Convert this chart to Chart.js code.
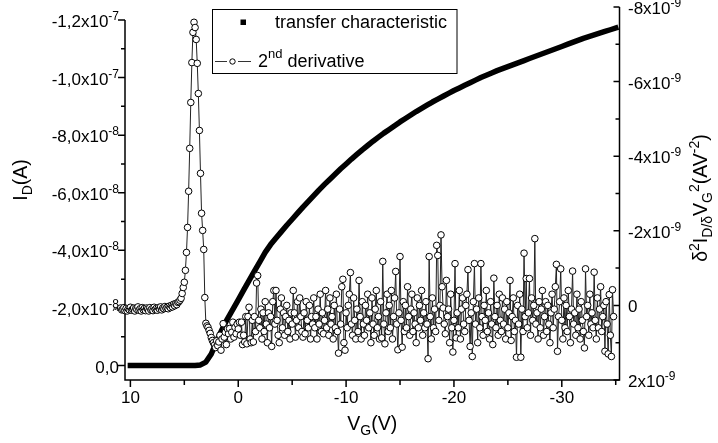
<!DOCTYPE html>
<html lang="en">
<head>
<meta charset="UTF-8">
<title>Transfer characteristic and 2nd derivative</title>
<script src="https://cdn.jsdelivr.net/npm/chart.js@4.4.1/dist/chart.umd.min.js"></script>
<style>
    body { margin: 0; background: #fff; }
    #wrap { width: 718px; height: 443px; }
</style>
</head>
<body>
<div id="wrap"><canvas id="chart"></canvas></div>
<script>
// transfer sweep: gate voltage (V) and drain current (units of 1e-8 A)
const vgTransfer = [
    10, 9.5, 9, 8.5, 8, 7.5, 7, 6.5, 6, 5.5, 5, 4.5, 4,
    3.5, 3, 2.5, 2, 1.5, 1, 0.5, 0, -0.5, -1, -1.5, -2, -2.5, -3, -3.5, -4, -4.5, -5,
    -5.5, -6, -6.5, -7, -7.5, -8, -8.5, -9, -9.5, -10, -10.5, -11, -11.5, -12, -12.5,
    -13, -13.5, -14, -14.5, -15, -15.5, -16, -16.5, -17, -17.5, -18, -18.5, -19, -19.5,
    -20, -20.5, -21, -21.5, -22, -22.5, -23, -23.5, -24, -24.5, -25, -25.5, -26, -26.5,
    -27, -27.5, -28, -28.5, -29, -29.5, -30, -30.5, -31, -31.5, -32, -32.5, -33, -33.5,
    -34, -34.5, -35
];
const idTransfer = [
    0, 0, 0, 0, 0, 0, 0, 0, 0, 0, 0, 0, 0,
    -0.02, -0.12, -0.4, -0.85, -1.25, -1.62, -1.95, -2.28, -2.62, -2.95, -3.28, -3.6, -3.93, -4.2, -4.43, -4.65, -4.87, -5.08,
    -5.29, -5.5, -5.7, -5.9, -6.1, -6.29, -6.47, -6.65, -6.83, -7.0, -7.17, -7.33, -7.49, -7.64, -7.79,
    -7.93, -8.07, -8.2, -8.33, -8.46, -8.58, -8.7, -8.82, -8.93, -9.04, -9.15, -9.25, -9.35, -9.45,
    -9.55, -9.64, -9.73, -9.82, -9.91, -10.0, -10.08, -10.16, -10.24, -10.31, -10.38, -10.45, -10.52, -10.59,
    -10.66, -10.73, -10.8, -10.87, -10.94, -11.01, -11.08, -11.15, -11.22, -11.29, -11.36, -11.42, -11.48, -11.54,
    -11.6, -11.66, -11.72
];

// second derivative: gate voltage (V) and d2I/dV2 (units of 1e-10 A/V^2)
const vgDeriv = [
    11.6, 11.5, 11.4, 11.3, 11.2, 11.1, 11.0,
    10.9, 10.8, 10.7, 10.6, 10.5, 10.4, 10.3, 10.2, 10.1, 10.0,
    9.9, 9.8, 9.7, 9.6, 9.5, 9.4, 9.3, 9.2, 9.1, 9.0,
    8.9, 8.8, 8.7, 8.6, 8.5, 8.4, 8.3, 8.2, 8.1, 8.0,
    7.9, 7.8, 7.7, 7.6, 7.5, 7.4, 7.3, 7.2, 7.1, 7.0,
    6.9, 6.8, 6.7, 6.6, 6.5, 6.4, 6.3, 6.2, 6.1, 6.0,
    5.9, 5.8, 5.7, 5.6, 5.5, 5.4, 5.3, 5.2, 5.1, 5.0,
    4.9, 4.8, 4.7, 4.6, 4.5, 4.4, 4.3, 4.2, 4.1, 4.0,
    3.9, 3.8, 3.7, 3.6, 3.5, 3.4, 3.3, 3.2, 3.1, 3.0,
    2.9, 2.8, 2.7, 2.6, 2.5, 2.4, 2.3, 2.2, 2.1, 2.0,
    1.9, 1.8, 1.7, 1.6, 1.5, 1.4, 1.3, 1.2, 1.1, 1.0,
    0.9, 0.8, 0.7, 0.6, 0.5, 0.4, 0.3, 0.2, 0.1, 0.0,
    -0.1, -0.2, -0.3, -0.4, -0.5, -0.6, -0.7, -0.8, -0.9, -1.0,
    -1.1, -1.2, -1.3, -1.4, -1.5, -1.6, -1.7, -1.8, -1.9, -2.0,
    -2.1, -2.2, -2.3, -2.4, -2.5, -2.6, -2.7, -2.8, -2.9, -3.0,
    -3.1, -3.2, -3.3, -3.4, -3.5, -3.6, -3.7, -3.8, -3.9, -4.0,
    -4.1, -4.2, -4.3, -4.4, -4.5, -4.6, -4.7, -4.8, -4.9, -5.0,
    -5.1, -5.2, -5.3, -5.4, -5.5, -5.6, -5.7, -5.8, -5.9, -6.0,
    -6.1, -6.2, -6.3, -6.4, -6.5, -6.6, -6.7, -6.8, -6.9, -7.0,
    -7.1, -7.2, -7.3, -7.4, -7.5, -7.6, -7.7, -7.8, -7.9, -8.0,
    -8.1, -8.2, -8.3, -8.4, -8.5, -8.6, -8.7, -8.8, -8.9, -9.0,
    -9.1, -9.2, -9.3, -9.4, -9.5, -9.6, -9.7, -9.8, -9.9, -10.0,
    -10.1, -10.2, -10.3, -10.4, -10.5, -10.6, -10.7, -10.8, -10.9, -11.0,
    -11.1, -11.2, -11.3, -11.4, -11.5, -11.6, -11.7, -11.8, -11.9, -12.0,
    -12.1, -12.2, -12.3, -12.4, -12.5, -12.6, -12.7, -12.8, -12.9, -13.0,
    -13.1, -13.2, -13.3, -13.4, -13.5, -13.6, -13.7, -13.8, -13.9, -14.0,
    -14.1, -14.2, -14.3, -14.4, -14.5, -14.6, -14.7, -14.8, -14.9, -15.0,
    -15.1, -15.2, -15.3, -15.4, -15.5, -15.6, -15.7, -15.8, -15.9, -16.0,
    -16.1, -16.2, -16.3, -16.4, -16.5, -16.6, -16.7, -16.8, -16.9, -17.0,
    -17.1, -17.2, -17.3, -17.4, -17.5, -17.6, -17.7, -17.8, -17.9, -18.0,
    -18.1, -18.2, -18.3, -18.4, -18.5, -18.6, -18.7, -18.8, -18.9, -19.0,
    -19.1, -19.2, -19.3, -19.4, -19.5, -19.6, -19.7, -19.8, -19.9, -20.0,
    -20.1, -20.2, -20.3, -20.4, -20.5, -20.6, -20.7, -20.8, -20.9, -21.0,
    -21.1, -21.2, -21.3, -21.4, -21.5, -21.6, -21.7, -21.8, -21.9, -22.0,
    -22.1, -22.2, -22.3, -22.4, -22.5, -22.6, -22.7, -22.8, -22.9, -23.0,
    -23.1, -23.2, -23.3, -23.4, -23.5, -23.6, -23.7, -23.8, -23.9, -24.0,
    -24.1, -24.2, -24.3, -24.4, -24.5, -24.6, -24.7, -24.8, -24.9, -25.0,
    -25.1, -25.2, -25.3, -25.4, -25.5, -25.6, -25.7, -25.8, -25.9, -26.0,
    -26.1, -26.2, -26.3, -26.4, -26.5, -26.6, -26.7, -26.8, -26.9, -27.0,
    -27.1, -27.2, -27.3, -27.4, -27.5, -27.6, -27.7, -27.8, -27.9, -28.0,
    -28.1, -28.2, -28.3, -28.4, -28.5, -28.6, -28.7, -28.8, -28.9, -29.0,
    -29.1, -29.2, -29.3, -29.4, -29.5, -29.6, -29.7, -29.8, -29.9, -30.0,
    -30.1, -30.2, -30.3, -30.4, -30.5, -30.6, -30.7, -30.8, -30.9, -31.0,
    -31.1, -31.2, -31.3, -31.4, -31.5, -31.6, -31.7, -31.8, -31.9, -32.0,
    -32.1, -32.2, -32.3, -32.4, -32.5, -32.6, -32.7, -32.8, -32.9, -33.0,
    -33.1, -33.2, -33.3, -33.4, -33.5, -33.6, -33.7, -33.8, -33.9, -34.0,
    -34.1, -34.2, -34.3, -34.4, -34.5, -34.6, -34.7, -34.8
];
const d2Deriv = [
    1.5, 0.8, 1.2, 0.5, 1.4, 0.9, 1.6,
    0.7, 1.2, 1.0, 0.6, 1.4, 0.8, 1.5, 0.9, 1.2, 0.5,
    1.3, 1.0, 0.7, 1.5, 0.8, 1.1, 0.4, 1.3, 0.9, 1.5,
    0.6, 1.2, 0.8, 1.4, 0.7, 1.0, 1.5, 0.6, 1.2, 0.9,
    1.4, 0.5, 1.1, 0.8, 1.3, 0.6, 1.0, 0.4, 1.2, 0.7,
    0.9, 0.3, 0.8, 0.5, 0.9, 0.2, 0.6, 0.0, 0.4, -0.3,
    0.1, -0.5, -0.2, -0.8, -1.0, -1.4, -1.9, -3.2, -4.8, -6.2,
    -9.4, -14.2, -20.9, -30.6, -42.1, -54.4, -65.1, -73.2, -75.9, -74.5,
    -71.3, -64.9, -56.8, -46.9, -35.4, -24.7, -20.1, -15.0, -2.1, 4.8,
    5.5, 5.9, 6.7, 7.5, 8.6, 9.4, 10.0, 10.6, 11.3, 9.5,
    10.8, 9.8, 8.0, 12.0, 9.0, 4.9, 8.5, 7.2, 10.5, 6.3,
    7.6, 6.2, 9.0, 7.2, 4.5, 8.5, 5.9, 7.6, 5.0, 6.3,
    4.5, 8.0, 4.5, 10.5, 8.0, 9.8, 3.0, 10.3, 3.0, 0.5,
    9.0, 10.0, 4.0, 9.8, 3.0, 7.0, -6.0, -8.0, 4.0, 6,
    1, 9, 2, 7, -1, 5, 10, 2, 6, 3,
    11, -1, -4, 5, -4, 4, 8, 10, 1, -2,
    6, 2, 8, 3, 0, 7, 4, 9, 2, 5,
    -4, 2, 8.5, 4, -1, 6, -2, 3, 7, 8.5,
    2, 7.6, -1, 4, 6, 0, 9, 3, 5, -2,
    6, 3, 9, 1, 5, -3, 7, 2, 7.6, 4,
    -4, 6, 1, 8, -2, 5, 3, 9, 0, 6,
    -3, 7, 12.8, 1, 5, -5, -7, 10, 12, 2,
    6, 0, -3, -8.8, 5, 8, -2, 4, 9, 1,
    7, -6.7, 3, 9, -1, 5, 8, 0, 4, -3,
    6, 2, 10, -2, 5, 8, 1, -4, 6, 3,
    9, -1, 8.7, -11.8, 5, 10.3, 2, -3, 7, 0,
    6, -4, 9, 3, -2, -9.1, 5, 11.9, 2, -13.1,
    4, 11.2, -1, 7, 0, 6, -5, 3, 8, 1,
    -3, 7, 2, 5, 10, -2, 6, 0, 4, -4,
    8, 2, 6, -1, 5, 14.3, -13.1, 3, 9, -2,
    6, 1, 7, -16.1, -13.4, 4, 0, -18.9, -5, 0.7,
    5, 7.6, -6.7, 3, 1, 10, -3, 6, 12.5, 4,
    -11.2, 8.7, 2, 6, -4, 9, 1, -2, 5, 7,
    0, -3, -9.6, 4, 11, 2, 13.7, -1, -11.2, 5,
    1, 10, -2, 6, -11.2, 3, 8, 0, 4, -4,
    7, 2, 9, -1, 5, 10.5, -7.3, 3, 6, 0,
    8, -3, 4, 7, -2, 5, 1, 9, -1, 6,
    2, -6.7, 9.4, 3, -2, 7, 4, 13.9, 0, 5,
    -3, 13.9, 1, 7, -14, 3, -7.2, 6, 2, -7.2,
    8, -2, 4, 0, -17.9, 5, 2, 9, -1, 6,
    1, -4, 8, 3, -1, 7, 0, 5, 10, 2,
    -3, 6, 1, -5, -11, 12.3, 3, -1, -9.8, 4,
    9, -2, 6, 0, 7, -4, 3, 10, 1, -9.2,
    5, 2, 8, -3, 6, 1, 9, -1, 4, 7,
    11.4, -9.8, 3, 0, 8, -3, 5, 2, 6, -8.9,
    4, 9, -2, 6, 1, -5, 7, 3, 0, 12.3,
    -1, 5, 13, -2.9, 8, 13.7, -4.2, 3
];

// axis ticks
const xTicks = [10, 0, -10, -20, -30];
const xTickLabels = ['10', '0', '-10', '-20', '-30'];
const xMinor = [5, -5, -15, -25, -35];
const leftTicks = [0, -2e-8, -4e-8, -6e-8, -8e-8, -1.0e-7, -1.2e-7];
const leftTickLabels = [['0,0', ''], ['-2,0x10', '-8'], ['-4,0x10', '-8'], ['-6,0x10', '-8'],
    ['-8,0x10', '-8'], ['-1,0x10', '-7'], ['-1,2x10', '-7']];
const leftMinor = [-1e-8, -3e-8, -5e-8, -7e-8, -9e-8, -1.1e-7];
const rightTicks = [2e-9, 0, -2e-9, -4e-9, -6e-9, -8e-9];
const rightTickLabels = [['2x10', '-9'], ['0', ''], ['-2x10', '-9'], ['-4x10', '-9'],
    ['-6x10', '-9'], ['-8x10', '-9']];
const rightMinor = [1e-9, -1e-9, -3e-9, -5e-9, -7e-9];

const FONT = '"Liberation Sans", Arial, sans-serif';

// draws a run of text pieces (normal / sub / sup) side by side
function drawRich(ctx, parts, x, y, align) {
    let w = 0;
    parts.forEach(p => {
        ctx.font = p.size + 'px ' + FONT;
        p.w = ctx.measureText(p.t).width;
        w += p.w;
    });
    let cx = align === 'right' ? x - w : align === 'center' ? x - w / 2 : x;
    parts.forEach(p => {
        ctx.font = p.size + 'px ' + FONT;
        ctx.fillText(p.t, cx, y + (p.dy || 0));
        cx += p.w;
    });
}

const T = 19.5, S = 14;
const xTitle = [{ t: 'V', size: T }, { t: 'G', size: S, dy: 5 }, { t: '(V)', size: T }];
const yTitle = [{ t: 'I', size: T }, { t: 'D', size: S, dy: 5 }, { t: '(A)', size: T }];
const y1Title = [
    { t: 'δ', size: T }, { t: '2', size: S, dy: -8 }, { t: 'I', size: T },
    { t: 'D/δ', size: S, dy: 5 }, { t: 'V', size: T }, { t: 'G', size: S, dy: 5 },
    { t: '2', size: S, dy: -8 }, { t: '(AV', size: T }, { t: '-2', size: S, dy: -8 },
    { t: ')', size: T }
];

const axisDecor = {
    id: 'axisDecor',
    beforeDatasetsDraw(chart) {
        const { ctx, chartArea: a, scales: { x, y, y1 } } = chart;
        ctx.save();
        ctx.strokeStyle = '#000';
        ctx.fillStyle = '#000';
        ctx.lineWidth = 1.5;

        // axis lines (no top frame)
        ctx.beginPath();
        ctx.moveTo(a.left, y.getPixelForValue(leftTicks[leftTicks.length - 1]));
        ctx.lineTo(a.left, a.bottom);
        ctx.lineTo(a.right, a.bottom);
        ctx.lineTo(a.right, a.top);
        ctx.stroke();

        // tick marks: left and bottom outward, right inward
        ctx.beginPath();
        leftTicks.forEach(v => { const p = y.getPixelForValue(v); ctx.moveTo(a.left - 7, p); ctx.lineTo(a.left, p); });
        leftMinor.forEach(v => { const p = y.getPixelForValue(v); ctx.moveTo(a.left - 4, p); ctx.lineTo(a.left, p); });
        rightTicks.forEach(v => { const p = y1.getPixelForValue(v); ctx.moveTo(a.right - 6, p); ctx.lineTo(a.right, p); });
        rightMinor.forEach(v => { const p = y1.getPixelForValue(v); ctx.moveTo(a.right - 4, p); ctx.lineTo(a.right, p); });
        xTicks.forEach(v => { const p = x.getPixelForValue(v); ctx.moveTo(p, a.bottom); ctx.lineTo(p, a.bottom + 7); });
        xMinor.forEach(v => { const p = x.getPixelForValue(v); ctx.moveTo(p, a.bottom); ctx.lineTo(p, a.bottom + 5); });
        ctx.stroke();

        // tick labels
        ctx.textBaseline = 'alphabetic';
        ctx.textAlign = 'left';
        leftTicks.forEach((v, i) => {
            const [b, e] = leftTickLabels[i];
            drawRich(ctx, [{ t: b, size: 17 }, { t: e, size: 12, dy: -7 }], a.left - 6, y.getPixelForValue(v) + 7, 'right');
        });
        rightTicks.forEach((v, i) => {
            const [b, e] = rightTickLabels[i];
            drawRich(ctx, [{ t: b, size: 17 }, { t: e, size: 12, dy: -7 }], a.right + 8.5, y1.getPixelForValue(v) + 7, 'left');
        });
        xTicks.forEach((v, i) => {
            drawRich(ctx, [{ t: xTickLabels[i], size: 17 }], x.getPixelForValue(v), a.bottom + 23, 'center');
        });

        // axis titles
        drawRich(ctx, xTitle, (a.left + a.right) / 2, 430, 'center');
        ctx.save();
        ctx.translate(27, 180);
        ctx.rotate(-Math.PI / 2);
        drawRich(ctx, yTitle, 0, 0, 'center');
        ctx.restore();
        ctx.save();
        ctx.translate(707, 198);
        ctx.rotate(-Math.PI / 2);
        drawRich(ctx, y1Title, 0, 0, 'center');
        ctx.restore();
        ctx.restore();
    },
    afterDraw(chart) {
        const ctx = chart.ctx;
        ctx.save();
        // legend box
        ctx.fillStyle = '#fff';
        ctx.fillRect(212.5, 9.5, 244.5, 64);
        ctx.strokeStyle = '#000';
        ctx.lineWidth = 1;
        ctx.strokeRect(212.5, 9.5, 244.5, 64);

        ctx.fillStyle = '#000';
        ctx.fillRect(240.5, 19.5, 5.5, 5.5);
        drawRich(ctx, [{ t: 'transfer characteristic', size: 18 }], 275, 28, 'left');

        ctx.strokeStyle = '#333';
        ctx.beginPath();
        ctx.moveTo(215, 61.5); ctx.lineTo(227, 61.5);
        ctx.moveTo(238, 61.5); ctx.lineTo(251, 61.5);
        ctx.stroke();
        ctx.beginPath();
        ctx.arc(232.5, 61.5, 2.7, 0, Math.PI * 2);
        ctx.fillStyle = '#fff';
        ctx.fill();
        ctx.strokeStyle = '#000';
        ctx.stroke();
        ctx.fillStyle = '#000';
        drawRich(ctx, [{ t: '2', size: 18 }, { t: 'nd', size: 13, dy: -9 }, { t: ' derivative', size: 18 }], 258, 67, 'left');
        ctx.restore();
    }
};

new Chart(document.getElementById('chart'), {
    type: 'scatter',
    data: {
        datasets: [
            {
                label: '2nd derivative',
                data: vgDeriv.map((v, i) => ({ x: v, y: d2Deriv[i] * 1e-10 })),
                yAxisID: 'y1',
                showLine: true,
                borderColor: '#222',
                borderWidth: 1,
                pointRadius: 3.3,
                pointBackgroundColor: '#fff',
                pointBorderColor: '#000',
                pointBorderWidth: 1,
                clip: false
            },
            {
                label: 'transfer characteristic',
                data: vgTransfer.map((v, i) => ({ x: v, y: idTransfer[i] * 1e-8 })),
                yAxisID: 'y',
                showLine: true,
                borderColor: '#000',
                borderWidth: 5.5,
                borderCapStyle: 'square',
                borderJoinStyle: 'round',
                pointRadius: 0
            }
        ]
    },
    options: {
        responsive: true,
        maintainAspectRatio: false,
        animation: false,
        events: [],
        layout: { padding: { left: 125, right: 98.5, top: 7, bottom: 63 } },
        plugins: { legend: { display: false }, tooltip: { enabled: false } },
        scales: {
            x: { type: 'linear', display: false, reverse: true, min: -35.35, max: 10.5 },
            y: { type: 'linear', display: false, reverse: true, min: -12.45e-8, max: 0.503e-8 },
            y1: { type: 'linear', display: false, reverse: true, min: -8e-9, max: 2e-9 }
        }
    },
    plugins: [axisDecor]
});
</script>
</body>
</html>
